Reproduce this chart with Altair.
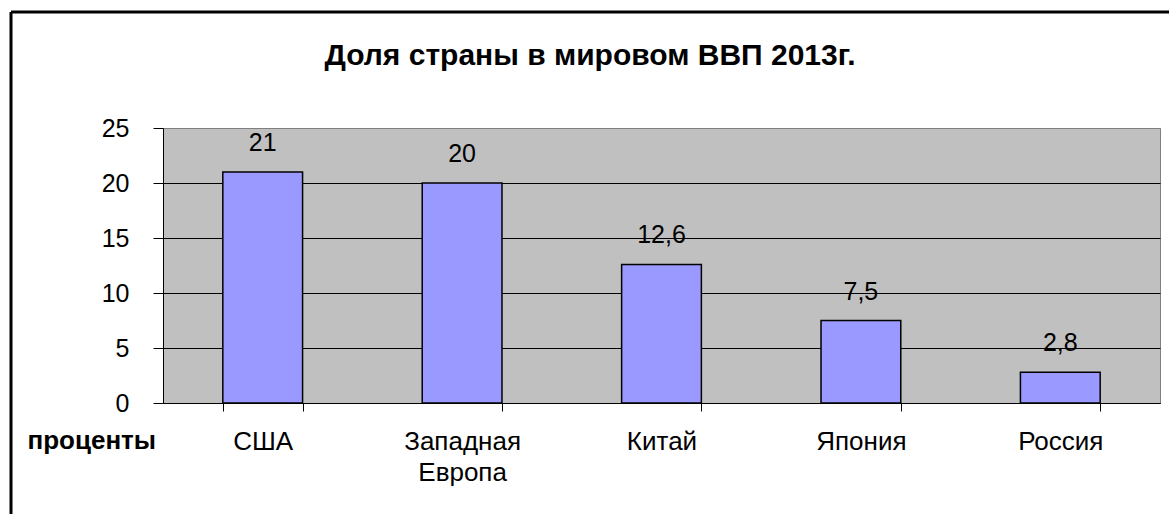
import altair as alt
import pandas as pd

# ---- data ----
countries = ["США", "Западная Европа", "Китай", "Япония", "Россия"]
shares = [21, 20, 12.6, 7.5, 2.8]
share_labels = ["21", "20", "12,6", "7,5", "2,8"]
y_ticks = [0, 5, 10, 15, 20, 25]
title_text = "Доля страны в мировом ВВП 2013г."
x_title = "проценты"

df = pd.DataFrame({"country": countries, "share": shares, "label": share_labels})

FONT = "Liberation Sans"
PLOT_L, PLOT_T = 163, 128

x_enc = alt.X(
    "country:N",
    sort=countries,
    scale=alt.Scale(paddingInner=0.6, paddingOuter=0.3),
    axis=alt.Axis(
        title=x_title,
        tickBand="extent",
        tickSize=8,
        tickColor="black",
        domainColor="black",
        labelAngle=0,
        labelExpr="split(datum.label, ' ')",
        labelFontSize=26,
        labelLineHeight=31,
        labelPadding=17,
        labelColor="black",
        titleX=27 - PLOT_L,
        titleY=37,
        titleAlign="left",
        titleBaseline="middle",
        titleFontSize=26,
        titleFontWeight="bold",
        titleColor="black",
    ),
)

y_enc = alt.Y(
    "share:Q",
    scale=alt.Scale(domain=[0, 25], nice=False),
    axis=alt.Axis(
        title=None,
        values=y_ticks,
        tickSize=10,
        tickColor="black",
        domainColor="black",
        labelPadding=24,
        labelFontSize=25,
        labelColor="black",
        grid=True,
        gridColor={"condition": {"test": "datum.value >= 25", "value": "#808080"}, "value": "black"},
        gridOpacity=1,
        gridWidth=1,
    ),
)

base = alt.Chart(df)

bars = base.mark_bar(fill="#9999FF", stroke="black", strokeWidth=1.5).encode(x=x_enc, y=y_enc)
labels = base.mark_text(dy=-29, fontSize=25, baseline="middle", color="black", font=FONT).encode(
    x=alt.X("country:N", sort=countries), y="share:Q", text="label:N"
)

deco = alt.Chart(alt.Data(values=[{"t": title_text}]))
frame_left = deco.mark_rule(color="black", strokeWidth=3).encode(
    x=alt.value(11 - PLOT_L), y=alt.value(12 - PLOT_T), y2=alt.value(520 - PLOT_T)
)
frame_top = deco.mark_rule(color="black", strokeWidth=3).encode(
    x=alt.value(11 - PLOT_L), x2=alt.value(1175 - PLOT_L), y=alt.value(12 - PLOT_T)
)
title = deco.mark_text(fontSize=30, fontWeight="bold", font=FONT, color="black", baseline="middle").encode(
    x=alt.value(590 - PLOT_L), y=alt.value(56 - PLOT_T), text="t:N"
)

chart = (
    alt.layer(bars, labels, frame_left, frame_top, title)
    .properties(
        width=997,
        height=275,
        autosize=alt.AutoSizeParams(type="none"),
        padding={"left": PLOT_L, "top": PLOT_T, "right": 9, "bottom": 111},
        background="white",
    )
    .configure(font=FONT)
    .configure_view(fill="#C0C0C0", stroke="#808080", strokeWidth=1)
)

chart.save("out.html", embed_options={"renderer": "svg", "actions": False})
